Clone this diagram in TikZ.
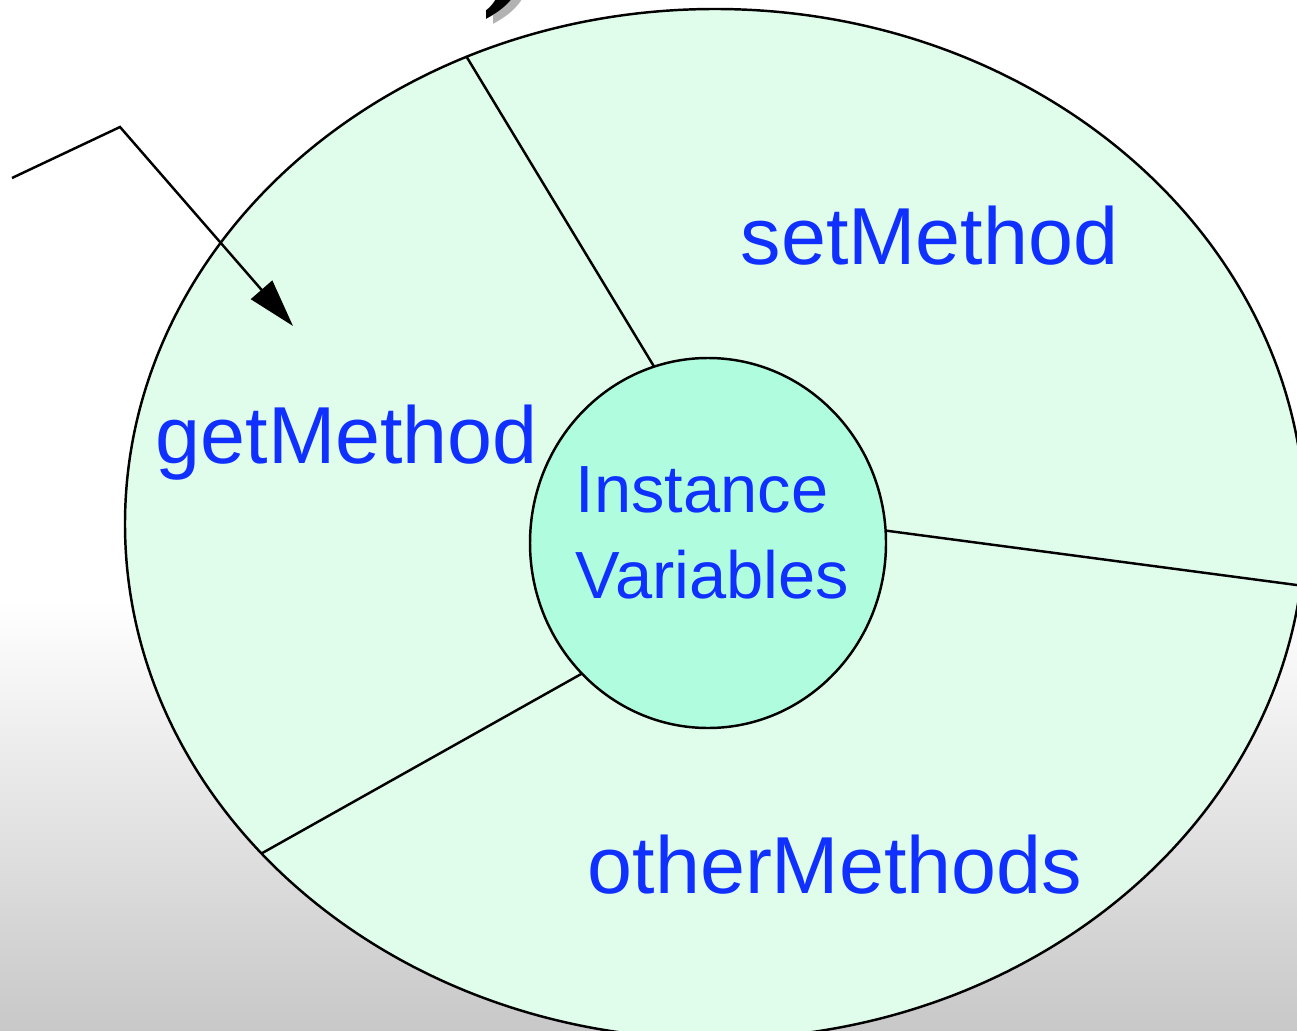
\documentclass[tikz,border=0pt]{standalone}
\usepackage{fontspec}
\setmainfont{Liberation Sans}
\newfontfamily\bracketfont{Liberation Serif}
\usetikzlibrary{arrows.meta, positioning, shapes.geometric}

\definecolor{methodfill}{RGB}{224,253,236}
\definecolor{varfill}{RGB}{176,252,222}
\definecolor{methodblue}{RGB}{16,48,255}
\definecolor{floorgray}{RGB}{200,200,200}

\tikzset{
    part/.style={draw=black, line width=0.7pt, ellipse, inner sep=0pt, outer sep=0pt},
    spoke/.style={black, line width=0.7pt},
    method/.style={text=methodblue, font=\fontsize{23}{27}\selectfont, anchor=base west, inner sep=0pt},
    bracket/.style={font=\bracketfont\bfseries\fontsize{44}{50}\selectfont, anchor=south west, inner sep=0pt},
}

\begin{document}
\begin{tikzpicture}
    \useasboundingbox (0,0) rectangle (12.97,10.30);
    \clip (0,0) rectangle (12.97,10.30);

    % Backdrop, fading to grey at the bottom
    \fill[white] (0,0) rectangle (12.97,10.30);
    \shade[top color=white, bottom color=floorgray] (0,0) rectangle (12.97,4.3);

    % Tail of the heading bracket, with its shadow
    \node[bracket, text=gray!60] (brackshadow) at (4.88,10.05) {)};
    \node[bracket] (closer) at (4.81,10.10) {)};

    % The object: methods round the instance variables
    \node[part, fill=methodfill, minimum width=11.8cm, minimum height=10.3cm] (object) at (7.15,5.06) {};
    \node[part, fill=varfill, minimum width=3.56cm, minimum height=3.70cm] (vars) at (7.08,4.87) {};

    \draw[spoke] (vars.107) -- (object.118);
    \draw[spoke] (vars.4) -- (object.-6);
    \draw[spoke] (vars.226) -- (object.216);

    % Labels
    \node[method] (setm) at (7.40,7.65) {setMethod};
    \node[method] (getm) at (1.55,5.67) {getMethod};
    \node[method] (otherm) at (5.87,1.37) {otherMethods};
    \node[text=methodblue, font=\fontsize{19}{24.2}\selectfont, align=left, anchor=base west, inner sep=0pt] (varlabel) at (5.75,4.32) {Instance\\Variables};

    % Call coming in from outside
    \coordinate (caller) at (0.12,8.52);
    \coordinate (bend) at (1.20,9.03);
    \coordinate (entry) at (2.93,7.04);
    \draw[line width=0.7pt, -{Triangle[length=4.8mm, width=2.8mm]}] (caller) -- (bend) -- (entry);
\end{tikzpicture}
\end{document}
